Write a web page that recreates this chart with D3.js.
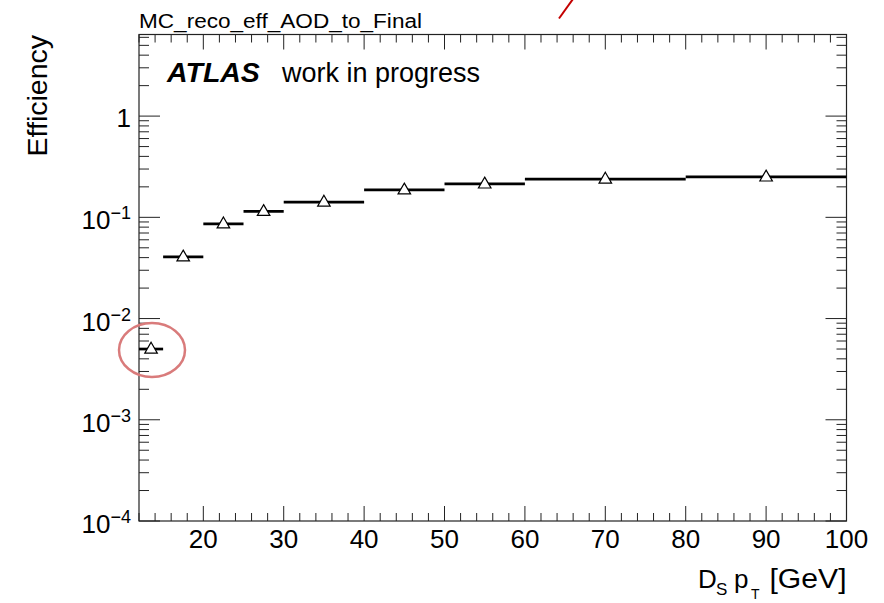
<!DOCTYPE html>
<html>
<head>
    <meta charset="utf-8">
    <script src="https://d3js.org/d3.v7.min.js"></script>
    <style>
      body { margin: 0; background: #fff; }
      text { font-family: "Liberation Sans", Arial, Helvetica, sans-serif; fill: #000; }
    </style>
</head>
<body>
    <script type="text/javascript">
    "use strict";

    // Bin edges of the Ds pT histogram and the efficiency in each bin.
    var binLow = [12, 15, 20, 25, 30, 40, 50, 60, 80];
    var binHigh = [15, 20, 25, 30, 40, 50, 60, 80, 100];
    var efficiency = [0.0050, 0.0407, 0.0863, 0.1146, 0.1416, 0.187, 0.214, 0.239, 0.251];

    // Axis tick values.
    var xMajorTicks = [20, 30, 40, 50, 60, 70, 80, 90, 100];
    var yDecades = [-4, -3, -2, -1, 0];

    var width = 884;
    var height = 603;

    // Frame of the pad, in pixels.
    var padLeft = 139, padRight = 846.5, padTop = 34.5, padBottom = 521;

    var svg = d3.select("body").append("svg")
        .attr("width", width)
        .attr("height", height);

    var x = d3.scaleLinear().domain([12, 100]).range([padLeft, padRight]);
    var y = d3.scaleLog().domain([1e-4, 6.4]).range([padBottom, padTop]);

    var axisColor = "#222";

    // x ticks, bottom and top, pointing into the frame.
    var xMinor = d3.range(12, 100.1, 2).filter(function(v) { return v % 10 !== 0; });
    var xTicks = xMinor.map(function(v) { return {v: v, len: 8}; })
        .concat(xMajorTicks.map(function(v) { return {v: v, len: 15}; }));

    svg.append("g").selectAll("line").data(xTicks).enter().append("line")
        .attr("x1", function(d) { return x(d.v); })
        .attr("x2", function(d) { return x(d.v); })
        .attr("y1", padBottom)
        .attr("y2", function(d) { return padBottom - d.len; })
        .attr("stroke", axisColor).attr("stroke-width", 1);
    svg.append("g").selectAll("line").data(xTicks).enter().append("line")
        .attr("x1", function(d) { return x(d.v); })
        .attr("x2", function(d) { return x(d.v); })
        .attr("y1", padTop)
        .attr("y2", function(d) { return padTop + d.len; })
        .attr("stroke", axisColor).attr("stroke-width", 1);

    // y ticks, left and right, log scale with minor ticks 2..9 per decade.
    var yTicks = [];
    yDecades.forEach(function(k) {
      yTicks.push({v: Math.pow(10, k), len: 21});
      for (var m = 2; m <= 9; m++) {
        var v = m * Math.pow(10, k);
        if (v <= 6.4) yTicks.push({v: v, len: 10});
      }
    });

    svg.append("g").selectAll("line").data(yTicks).enter().append("line")
        .attr("x1", padLeft)
        .attr("x2", function(d) { return padLeft + d.len; })
        .attr("y1", function(d) { return y(d.v); })
        .attr("y2", function(d) { return y(d.v); })
        .attr("stroke", axisColor).attr("stroke-width", 1);
    svg.append("g").selectAll("line").data(yTicks).enter().append("line")
        .attr("x1", padRight)
        .attr("x2", function(d) { return padRight - d.len; })
        .attr("y1", function(d) { return y(d.v); })
        .attr("y2", function(d) { return y(d.v); })
        .attr("stroke", axisColor).attr("stroke-width", 1);

    // Frame.
    svg.append("rect")
        .attr("x", padLeft).attr("y", padTop)
        .attr("width", padRight - padLeft).attr("height", padBottom - padTop)
        .attr("fill", "none").attr("stroke", axisColor).attr("stroke-width", 1.2);

    // x tick labels.
    svg.append("g").selectAll("text").data(xMajorTicks).enter().append("text")
        .attr("x", function(d) { return x(d); })
        .attr("y", 548)
        .attr("text-anchor", "middle")
        .style("font-size", "26px")
        .text(function(d) { return d; });

    // y tick labels: "1" and 10^k.
    yDecades.forEach(function(k) {
      var ty = y(Math.pow(10, k));
      if (k === 0) {
        svg.append("text")
            .attr("x", 131).attr("y", ty + 11)
            .attr("text-anchor", "end")
            .style("font-size", "26px")
            .text("1");
        return;
      }
      var t = svg.append("text")
          .attr("x", 131).attr("y", ty + 12)
          .attr("text-anchor", "end")
          .style("font-size", "26px");
      t.append("tspan").text("10");
      t.append("tspan")
          .attr("dy", -10)
          .style("font-size", "18px")
          .text("\u2212" + Math.abs(k));
    });

    // Horizontal bin-width lines.
    var points = efficiency.map(function(e, i) {
      return {lo: binLow[i], hi: binHigh[i], mid: (binLow[i] + binHigh[i]) / 2, eff: e};
    });

    svg.append("g").selectAll("line").data(points).enter().append("line")
        .attr("x1", function(d) { return x(d.lo); })
        .attr("x2", function(d) { return x(d.hi); })
        .attr("y1", function(d) { return y(d.eff); })
        .attr("y2", function(d) { return y(d.eff); })
        .attr("stroke", "#000").attr("stroke-width", 2.7);

    // Open triangle markers.
    var tri = d3.symbol().type(d3.symbolTriangle).size(68);
    svg.append("g").selectAll("path").data(points).enter().append("path")
        .attr("d", tri)
        .attr("transform", function(d) { return "translate(" + x(d.mid) + "," + (y(d.eff) + 0.5) + ")"; })
        .attr("fill", "#fff").attr("stroke", "#000").attr("stroke-width", 1.2);

    // Histogram title above the frame.
    svg.append("text")
        .attr("x", 139).attr("y", 28)
        .attr("textLength", 283)
        .attr("lengthAdjust", "spacingAndGlyphs")
        .style("font-size", "20px")
        .text("MC_reco_eff_AOD_to_Final");

    // ATLAS label.
    svg.append("text")
        .attr("x", 167).attr("y", 82)
        .style("font-size", "28.5px")
        .style("font-weight", "bold")
        .style("font-style", "italic")
        .text("ATLAS");
    svg.append("text")
        .attr("x", 282).attr("y", 82)
        .style("font-size", "27px")
        .text("work in progress");

    // Axis titles.
    svg.append("text")
        .attr("transform", "translate(47,35) rotate(-90)")
        .attr("text-anchor", "end")
        .style("font-size", "28.5px")
        .text("Efficiency");

    // x title, D_S p_T [GeV], pieces placed to the reference spacing.
    svg.append("text").attr("x", 698).attr("y", 588).style("font-size", "26px").text("D");
    svg.append("text").attr("x", 716).attr("y", 595).style("font-size", "17px").text("S");
    svg.append("text").attr("x", 734).attr("y", 588).style("font-size", "26px").text("p");
    svg.append("text").attr("x", 751).attr("y", 599).style("font-size", "14px").text("T");
    svg.append("text")
        .attr("x", padRight).attr("y", 588)
        .attr("text-anchor", "end")
        .attr("textLength", 77)
        .attr("lengthAdjust", "spacingAndGlyphs")
        .style("font-size", "27px")
        .text("[GeV]");

    // Annotations drawn over the plot: circle around the first bin and red stroke at the top.
    svg.append("ellipse")
        .attr("cx", 152).attr("cy", 350)
        .attr("rx", 33).attr("ry", 27)
        .attr("fill", "none").attr("stroke", "#d97b7b").attr("stroke-width", 2.5);
    svg.append("line")
        .attr("x1", 559).attr("y1", 18.5)
        .attr("x2", 573).attr("y2", -1)
        .attr("stroke", "#c40000").attr("stroke-width", 2);
    </script>
</body>
</html>
